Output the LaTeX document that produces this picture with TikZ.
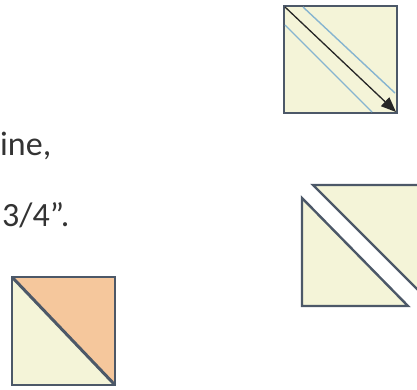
\documentclass[tikz,border=0pt]{standalone}
\usepackage{fontspec}
\setmainfont{Carlito}
\usetikzlibrary{arrows.meta}
\definecolor{cream}{HTML}{F4F4D8}
\definecolor{peach}{HTML}{F5C79C}
\definecolor{edge}{HTML}{4C5868}
\definecolor{seam}{HTML}{86B4D0}
\definecolor{ink}{HTML}{333333}
\tikzset{
  patch/.style={fill=cream, draw=edge, line width=2.4pt, line join=miter},
  seamline/.style={draw=seam, line width=1.4pt},
  cutarrow/.style={draw=black!85, line width=1.3pt, -{Triangle[length=15pt,width=12pt]}},
  label/.style={anchor=base west, inner sep=0pt, text=ink, font=\fontsize{34}{40}\selectfont}
}
\begin{document}
\begin{tikzpicture}[x=1pt,y=-1pt]
\useasboundingbox (0,0) rectangle (417,389);
\clip (0,0) rectangle (417,389);
% top square with seam lines and cutting arrow
\draw[patch] (284,6) rectangle (397,113);
\draw[seamline] (303,7) -- (395,93);
\draw[seamline] (285,25) -- (372,112);
\coordinate (cutA) at (285,7);
\coordinate (cutB) at (396,112);
\draw[cutarrow] (cutA) -- (cutB);
% texts
\node[label] (t1) at (0,155) {ine,};
\node[label] (t2) at (2,226) {3/4”.};
% right: two separated triangles
\draw[patch] (313,185) -- (426,185) -- (426,298) -- cycle;
\draw[patch] (302,198) -- (302,306) -- (408,306) -- cycle;
% bottom-left half-square triangle unit
\fill[cream] (12,277) -- (12,385) -- (115,385) -- cycle;
\fill[peach] (12,277) -- (115,277) -- (115,385) -- cycle;
\draw[edge, line width=2.4pt] (12,277) rectangle (115,385);
\draw[edge, line width=3pt] (12,277) -- (115,385);
\end{tikzpicture}
\end{document}
